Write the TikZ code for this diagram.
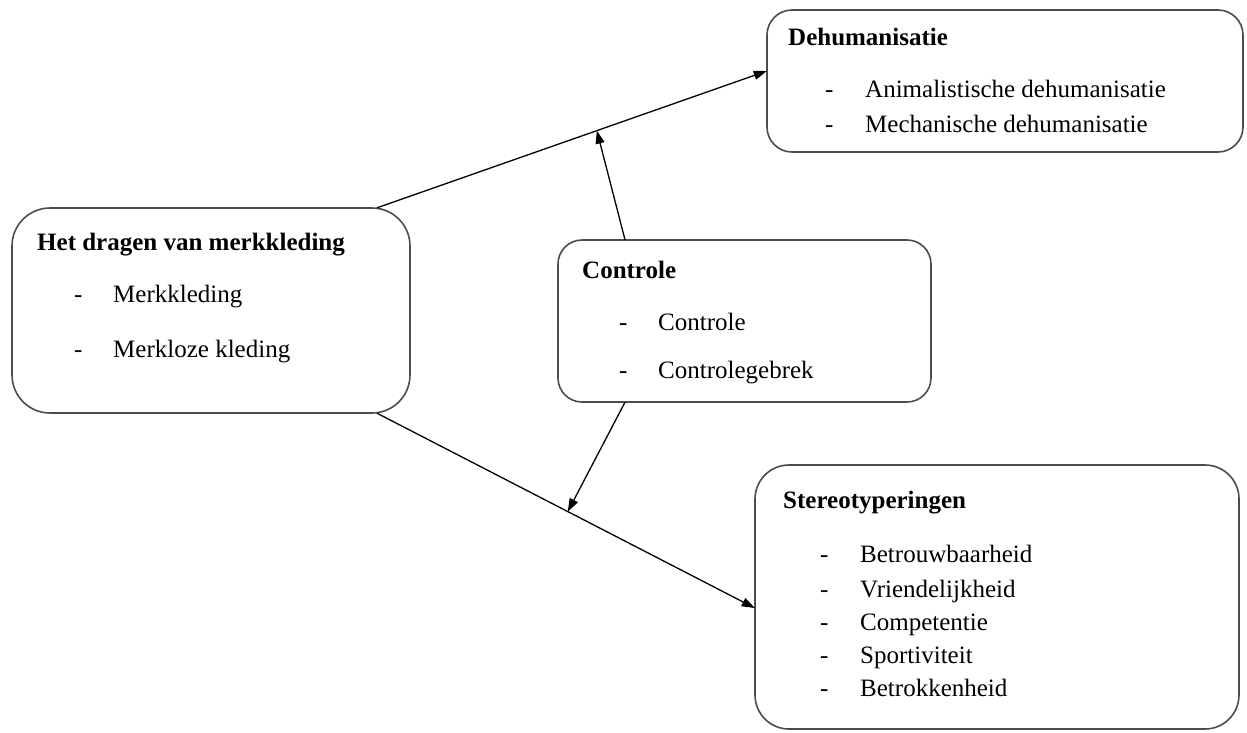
\documentclass[tikz,border=0pt]{standalone}
\usepackage{fontspec}
\setmainfont{Liberation Serif}
\usetikzlibrary{arrows.meta}
\tikzset{
  box/.style={draw=black!70, line width=1.6pt, rounded corners=#1, fill=white},
  box/.default=25pt,
  txt/.style={anchor=base west, inner sep=0pt, font=\fontsize{25}{30}\selectfont},
  head/.style={txt, font=\fontsize{25}{30}\selectfont\bfseries},
  conn/.style={line width=1.3pt, -{Triangle[length=13pt,width=9pt]}}
}
\begin{document}
\begin{tikzpicture}[x=1pt,y=-1pt]
\useasboundingbox (0,0) rectangle (1247,732);
% boxes
\draw[box=38pt] (12,208) rectangle (410,413);
\draw[box=25pt] (767,10) rectangle (1243,152);
\draw[box=24pt] (558,240) rectangle (931,402);
\draw[box=34pt] (755,465) rectangle (1239,729);
\node[draw=none, minimum width=398pt, minimum height=205pt, inner sep=0pt] (hdvm) at (211,310.5) {};
\node[draw=none, minimum width=476pt, minimum height=142pt, inner sep=0pt] (dehum) at (1005,81) {};
\node[draw=none, minimum width=373pt, minimum height=162pt, inner sep=0pt] (contr) at (744.5,321) {};
\node[draw=none, minimum width=484pt, minimum height=264pt, inner sep=0pt] (stereo) at (997,597) {};
% texts
\node[head] (t1) at (37,250) {Het dragen van merkkleding};
\node[txt] (d11) at (74,302) {-};
\node[txt] (t11) at (113,302) {Merkkleding};
\node[txt] (d12) at (74,357) {-};
\node[txt] (t12) at (113,357) {Merkloze kleding};

\node[head] (t2) at (788,45) {Dehumanisatie};
\node[txt] (d21) at (825,97) {-};
\node[txt] (t21) at (865,97) {Animalistische dehumanisatie};
\node[txt] (d22) at (825,132) {-};
\node[txt] (t22) at (865,132) {Mechanische dehumanisatie};

\node[head] (t3) at (582,278) {Controle};
\node[txt] (d31) at (619,330) {-};
\node[txt] (t31) at (658,330) {Controle};
\node[txt] (d32) at (619,378) {-};
\node[txt] (t32) at (658,378) {Controlegebrek};

\node[head] (t4) at (783,508) {Stereotyperingen};
\node[txt] (d41) at (820,562) {-};
\node[txt] (t41) at (860,562) {Betrouwbaarheid};
\node[txt] (d42) at (820,597) {-};
\node[txt] (t42) at (860,597) {Vriendelijkheid};
\node[txt] (d43) at (820,630) {-};
\node[txt] (t43) at (860,630) {Competentie};
\node[txt] (d44) at (820,663) {-};
\node[txt] (t44) at (860,663) {Sportiviteit};
\node[txt] (d45) at (820,696) {-};
\node[txt] (t45) at (860,696) {Betrokkenheid};
% connectors
\coordinate (a1) at (hdvm.north -| 377,0);
\coordinate (a2) at (hdvm.south -| 377,0);
\coordinate (e1) at (dehum.west |- 0,71);
\coordinate (e2) at (stereo.west |- 0,608);
\coordinate (c1) at (contr.north -| 625,0);
\coordinate (c2) at (contr.south -| 625,0);
\draw[conn] (a1) -- (e1) coordinate[pos=0.564] (m1);
\draw[conn] (a2) -- (e2) coordinate[pos=0.505] (m2);
\draw[conn] (c1) -- (m1);
\draw[conn] (c2) -- (m2);
\end{tikzpicture}
\end{document}
